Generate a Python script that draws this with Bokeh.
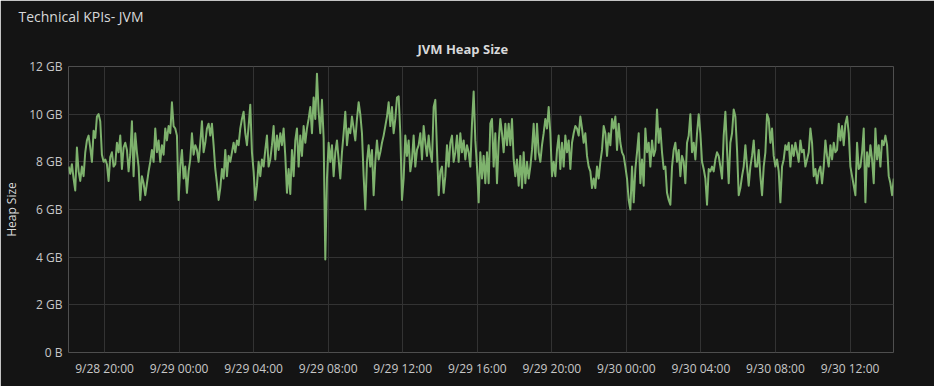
import pandas as pd
from bokeh.plotting import figure
from bokeh.models import FixedTicker, Range1d, ColumnDataSource, Title
from bokeh.embed import file_html
from bokeh.resources import INLINE

# ---------------- data ----------------
row_title = "Technical KPIs- JVM"
panel_title = "JVM Heap Size"
y_axis_label = "Heap Size"

series_start = "2018-09-28 18:04:16"
sample_interval_s = 322

heap_gb_part1 = [
    7.8, 7.5, 7.9, 7.3, 6.8, 8.6, 7.6, 7.2, 7.8, 7.4, 8.4, 8.9, 9.1, 8.6, 8.0, 9.3,
    9.0, 9.9, 10.0, 9.7, 8.3, 8.0, 8.1, 7.9, 7.2, 8.2, 8.4, 7.8, 7.9, 8.8, 8.4, 9.1,
    7.7, 8.6, 8.8, 8.5, 7.6, 8.3, 9.7, 7.4, 9.2, 8.4, 7.8, 6.4, 7.4, 7.1, 6.6, 7.1,
    7.6, 8.0, 8.5, 8.0, 9.4, 8.4, 8.9, 8.0, 8.7, 8.3, 9.4, 8.9, 9.5, 9.2, 10.5, 9.5,
    9.4, 9.1, 6.4, 7.8, 8.5, 7.3, 7.8, 6.7, 7.6, 8.1, 9.2, 8.3, 8.7, 8.5, 8.0, 8.8,
    9.7, 8.4, 8.8, 9.4, 9.6, 9.1, 9.6, 8.7, 7.7, 7.1, 6.4, 6.9, 7.7, 7.3, 8.5, 7.4,
    8.25, 8.0, 8.4, 8.8, 8.4, 8.9, 8.7, 9.4, 9.8, 10.1, 9.2, 8.7, 9.5, 10.4, 8.4, 7.6,
    6.4, 7.0, 8.0, 7.4, 8.1, 7.8, 8.5, 9.1, 7.8, 8.1,
]
heap_gb_part2 = [
    8.7, 9.5, 8.1, 9.1, 8.5, 9.2, 8.7, 9.4, 8.25, 6.7, 7.7, 6.65, 8.5, 7.4, 8.9, 9.4,
    7.8, 9.1, 8.25, 9.5, 8.8, 9.4, 9.8, 10.3, 9.2, 10.7, 9.8, 11.7, 10.1, 9.2, 10.6, 9.0,
    3.9, 7.3, 8.8, 8.0, 8.7, 7.4, 8.4, 8.9, 8.1, 7.3, 8.4, 9.2, 10.1, 8.7, 9.4, 9.2,
    9.9, 9.4, 8.9, 9.8, 10.5, 10.0, 9.2, 7.4, 6.0, 8.0, 8.7, 7.8, 8.5, 6.6, 8.0, 8.9,
    8.1, 8.4, 8.8, 9.1, 9.5, 9.9, 10.5, 9.5, 10.3, 9.2, 9.8, 10.7, 10.75, 9.2, 6.4, 7.3,
    9.1, 8.25, 8.9, 7.6, 8.1, 9.1, 7.8, 8.5, 8.7, 9.2, 8.1, 9.5, 8.8, 8.25, 9.1, 8.4,
    8.0, 10.3, 10.6, 8.5, 6.6, 7.6, 7.8, 6.7, 7.4, 8.7, 7.8, 8.8, 9.1, 8.0, 8.4, 9.1,
    8.0, 9.2, 8.4, 8.9, 8.1, 8.7, 8.4, 7.8, 9.6, 10.95, 8.9,
]
heap_gb_part3 = [
    7.8, 6.3, 8.4, 7.3, 8.25, 7.1, 8.4, 7.1, 9.6, 9.8, 7.8, 9.2, 7.1, 8.8, 9.8, 9.2,
    8.4, 9.6, 8.7, 9.6, 8.7, 9.8, 8.1, 7.4, 8.1, 7.0, 8.25, 6.9, 8.4, 7.1, 8.0, 7.3,
    7.8, 8.5, 9.6, 8.1, 9.6, 8.4, 8.0, 8.7, 9.2, 9.8, 9.4, 10.3, 9.2, 7.4, 8.0, 7.4,
    8.5, 9.1, 7.7, 8.8, 7.8, 9.1, 8.4, 8.9, 7.7, 8.8, 9.2, 9.5, 9.4, 9.1, 9.9, 9.4,
    8.8, 9.2, 8.25, 7.8, 7.6, 6.9, 7.3, 6.9, 7.8, 7.3, 8.0, 8.5, 9.5, 9.2, 8.25, 9.2,
    8.7, 9.8, 9.4, 9.9, 8.5, 9.6, 8.8, 8.4, 8.25, 7.8, 7.3, 6.4, 6.0, 7.8, 6.3, 7.7,
    8.4, 9.2, 7.1, 8.1, 7.0, 9.4, 8.4, 8.8, 7.8, 8.9, 8.25, 8.5, 10.2, 8.8, 9.4, 8.4,
    7.7, 7.8, 6.7, 6.4, 6.2, 7.8, 8.5, 8.8, 8.0, 8.5, 7.4, 8.25,
]
heap_gb_part4 = [
    8.0, 7.1, 8.8, 9.1, 10.0, 8.4, 8.8, 8.1, 9.2, 10.0, 9.2, 8.0, 7.7, 7.3, 6.2, 7.7,
    7.6, 7.8, 7.6, 8.1, 8.4, 8.25, 7.8, 7.3, 9.1, 10.1, 8.5, 7.1, 8.8, 9.2, 10.2, 9.9,
    8.5, 6.6, 6.9, 7.4, 7.8, 8.7, 7.8, 7.0, 7.8, 8.25, 8.9, 7.8, 7.8, 8.5, 7.4, 6.6,
    7.8, 8.4, 10.0, 9.8, 8.8, 9.4, 8.25, 7.8, 8.1, 7.6, 6.3, 7.8, 8.1, 8.7, 8.5, 8.8,
    7.8, 8.7, 8.25, 8.8, 8.4, 8.0, 8.9, 8.4, 8.5, 7.8, 8.1, 8.4, 9.4, 8.8, 7.4, 7.7,
    7.1, 7.6, 7.8, 7.1, 7.8, 8.9, 8.25, 7.8, 8.7, 8.1, 8.8, 8.4, 8.5, 9.6, 8.9, 9.5,
    8.7, 9.6, 9.9, 9.2, 7.8, 7.4, 7.0, 6.6, 8.8, 7.7, 7.8, 8.4, 9.4, 6.3, 8.4, 7.8,
    8.7, 8.1, 7.1, 9.4, 8.1, 8.7, 7.8, 8.9, 8.7, 9.1, 8.7, 7.4, 7.1, 6.6, 7.3,
]

y_tick_values = [0, 2, 4, 6, 8, 10, 12]
y_tick_labels = ["0 B", "2 GB", "4 GB", "6 GB", "8 GB", "10 GB", "12 GB"]

x_tick_times = [
    "2018-09-28 20:00", "2018-09-29 00:00", "2018-09-29 04:00", "2018-09-29 08:00",
    "2018-09-29 12:00", "2018-09-29 16:00", "2018-09-29 20:00", "2018-09-30 00:00",
    "2018-09-30 04:00", "2018-09-30 08:00", "2018-09-30 12:00",
]
x_tick_labels = [
    "9/28 20:00", "9/29 00:00", "9/29 04:00", "9/29 08:00", "9/29 12:00", "9/29 16:00",
    "9/29 20:00", "9/30 00:00", "9/30 04:00", "9/30 08:00", "9/30 12:00",
]
x_view_start = "2018-09-28 18:04"
x_view_end = "2018-09-30 14:20"

# ---------------- build ----------------
BG = "#141414"
GRID = "#333333"
LINE = "#7EB26D"
TEXT = "#d8d9da"
TICK = "#c8c8c8"
FONT = "Open Sans"

heap_gb = heap_gb_part1 + heap_gb_part2 + heap_gb_part3 + heap_gb_part4
times = pd.Timestamp(series_start) + pd.to_timedelta(
    [i * sample_interval_s for i in range(len(heap_gb))], unit="s")
src = ColumnDataSource(dict(t=times, v=heap_gb))

EPOCH = pd.Timestamp("1970-01-01")
def ms(s):
    return int((pd.Timestamp(s) - EPOCH) // pd.Timedelta(milliseconds=1))

x_tick_ms = [ms(t) for t in x_tick_times]

p = figure(
    width=934, height=386, x_axis_type="datetime",
    x_range=Range1d(ms(x_view_start), ms(x_view_end)), y_range=Range1d(0, 12),
    output_backend="svg", toolbar_location=None,
    min_border_left=68, min_border_right=41, min_border_top=66, min_border_bottom=34,
    background_fill_color=BG, border_fill_color=BG, outline_line_color=None,
)

main_title = Title(text=panel_title, align="left", offset=349, standoff=18,
                   text_font=FONT, text_font_size="13px", text_font_style="bold",
                   text_color=TEXT)
header = Title(text=row_title, align="left", offset=-50, standoff=5,
               text_font=FONT, text_font_size="14px", text_font_style="normal",
               text_color=TEXT)
p.add_layout(main_title, "above")
p.add_layout(header, "above")

p.line(x="t", y="v", source=src, line_color=LINE, line_width=2.0, line_join="round")

xa = p.xaxis[0]
xa.ticker = FixedTicker(ticks=x_tick_ms)
xa.major_label_overrides = dict(zip(x_tick_ms, x_tick_labels))
ya = p.yaxis[0]
ya.ticker = FixedTicker(ticks=y_tick_values)
ya.major_label_overrides = dict(zip(y_tick_values, y_tick_labels))
ya.axis_label = y_axis_label
ya.axis_label_text_font = FONT
ya.axis_label_text_font_style = "normal"
ya.axis_label_text_font_size = "12px"
ya.axis_label_text_color = TEXT
ya.axis_label_standoff = 6

for ax in (xa, ya):
    ax.axis_line_color = None
    ax.major_tick_line_color = None
    ax.minor_tick_line_color = None
    ax.major_tick_out = 0
    ax.major_tick_in = 0
    ax.major_label_text_color = TICK
    ax.major_label_text_font = FONT
    ax.major_label_text_font_size = "12px"
xa.major_label_standoff = 7
ya.major_label_standoff = 6

p.xgrid.grid_line_color = GRID
p.ygrid.grid_line_color = GRID

html = file_html(p, INLINE)
html = html.replace("<body>", '<body style="background-color:%s;">' % BG, 1)
open("out.html", "w").write(html)
